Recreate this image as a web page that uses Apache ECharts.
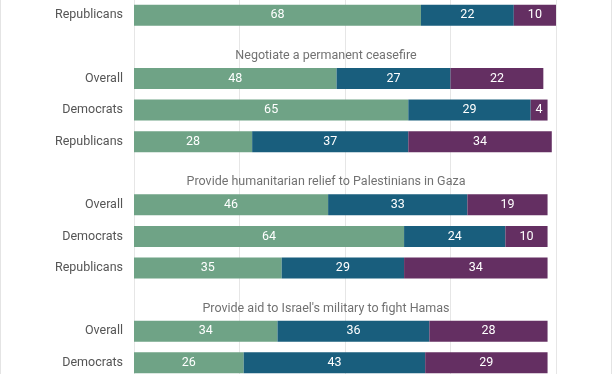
<!DOCTYPE html>
<html>
<head>
<meta charset="utf-8">
<script src="https://cdn.jsdelivr.net/npm/echarts@6/dist/echarts.min.js"></script>
<style>
html,body{margin:0;padding:0;width:612px;height:374px;overflow:hidden;background:#fff;}
#frame{position:absolute;left:0;top:0;width:610px;height:374px;border-left:1px solid #e4e4e4;border-right:1px solid #e4e4e4;overflow:hidden;}
#chart{position:absolute;left:-1px;top:-1px;width:612px;height:380px;}
</style>
</head>
<body>
<div id="frame"><div id="chart"></div></div>
<script>
// Row labels (top to bottom); '' marks a group-title slot
const rowLabels = ['Republicans', '', 'Overall', 'Democrats', 'Republicans', '', 'Overall', 'Democrats', 'Republicans', '', 'Overall', 'Democrats'];
const groupTitles = ['Negotiate a permanent ceasefire', 'Provide humanitarian relief to Palestinians in Gaza', "Provide aid to Israel's military to fight Hamas"];
const titleRows = [1, 5, 9];
const support = [68, null, 48, 65, 28, null, 46, 64, 35, null, 34, 26];
const neutral = [22, null, 27, 29, 37, null, 33, 24, 29, null, 36, 43];
const oppose  = [10, null, 22, 4, 34, null, 19, 10, 34, null, 28, 29];
const colors = ['#6fa386', '#195e7d', '#642f62'];

const chart = echarts.init(document.getElementById('chart'));
const labelStyle = {show: true, position: 'inside', color: '#fff', fontSize: 12.5, fontFamily: 'Roboto'};
function barSeries(name, data, color) {
  return {
    name: name, type: 'bar', stack: 'total', data: data, barWidth: 21,
    itemStyle: {color: color},
    label: labelStyle,
    emphasis: {disabled: true},
    silent: true
  };
}
chart.setOption({
  animation: false,
  grid: {left: 134, right: 56, top: 0.5, bottom: 0.5, containLabel: false},
  xAxis: {
    type: 'value', min: 0, max: 100, interval: 25,
    axisLabel: {show: false},
    splitLine: {show: true, lineStyle: {color: '#e6e6e6', width: 1}},
    axisLine: {show: false}, axisTick: {show: false}
  },
  yAxis: {
    type: 'category', inverse: true, data: rowLabels,
    axisLine: {show: false}, axisTick: {show: false},
    axisLabel: {color: '#555', fontSize: 12.5, fontFamily: 'Roboto', margin: 11}
  },
  series: [
    barSeries('Support', support, colors[0]),
    barSeries('Neither', neutral, colors[1]),
    barSeries('Oppose', oppose, colors[2]),
    {
      type: 'scatter', silent: true, symbolSize: 0.1,
      itemStyle: {color: 'rgba(0,0,0,0)'},
      data: titleRows.map((r, i) => ({value: [50, r], name: groupTitles[i]})),
      label: {show: true, position: 'inside', formatter: p => p.name, color: '#4d4d4d', fontSize: 12.5, fontFamily: 'Roboto', offset: [-19, 9]}
    }
  ]
});
</script>
</body>
</html>
